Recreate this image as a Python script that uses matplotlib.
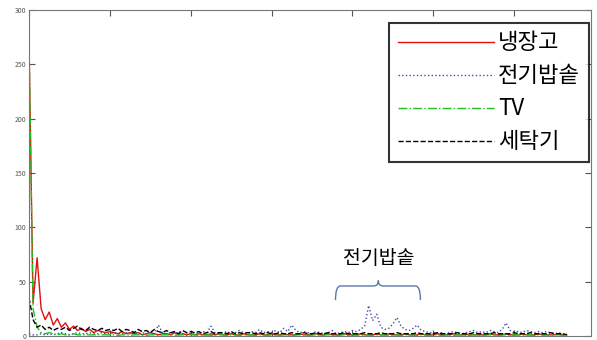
import matplotlib.pyplot as plt
import numpy as np
from matplotlib.path import Path
from matplotlib.patches import PathPatch

plt.rcParams['font.family'] = ['Noto Sans CJK KR', 'DejaVu Sans']

step = 50
fridge = [272, 30, 72, 25, 15, 22, 10, 16, 8, 12, 6, 9, 5, 7, 4, 6, 3, 5, 4, 3, 4,
          3, 2, 4, 2, 3, 2, 3, 1, 2, 3, 2, 1, 2, 2, 1, 3, 1, 2, 1, 2,
          1, 2, 1, 1, 2, 1, 2, 1, 1, 2, 1, 1, 2, 1, 1, 1, 2, 1, 1, 2,
          1, 1, 2, 1, 1, 1, 2, 1, 1, 1, 2, 1, 1, 2, 1, 1, 1, 2, 1, 1,
          1, 2, 1, 1, 1, 2, 1, 1, 2, 1, 1, 1, 2, 1, 1, 1, 2, 1, 1, 1,
          2, 1, 1, 1, 2, 1, 1, 1, 2, 1, 1, 1, 1, 2, 1, 1, 1, 2, 1, 1,
          1, 2, 1, 1, 1, 2, 1, 1, 1, 1, 2, 1, 1]
cooker = [2, 1, 1, 2, 1, 2, 1, 2, 3, 2, 1, 2, 3, 2, 2, 3, 2, 2, 3, 2, 2,
          3, 2, 2, 3, 2, 4, 2, 3, 2, 3, 2, 10, 3, 2, 3, 2, 4, 2, 3, 2,
          3, 2, 4, 3, 9, 3, 2, 3, 4, 2, 3, 5, 3, 2, 4, 3, 6, 3, 4, 3,
          5, 3, 7, 4, 10, 5, 3, 4, 3, 2, 4, 3, 2, 3, 5, 2, 3, 4, 3, 5,
          4, 6, 9, 28, 14, 20, 8, 6, 7, 11, 17, 9, 6, 5, 7, 10, 5, 4, 3, 3,
          2, 3, 2, 3, 4, 3, 2, 3, 4, 5, 3, 4, 3, 5, 4, 3, 6, 12, 5, 4,
          4, 3, 5, 4, 3, 4, 3, 4, 3, 2, 3, 2, 2]
tv = [270, 25, 8, 3, 2, 3, 2, 1, 2, 1, 1, 2, 1, 1, 1, 1, 1, 1, 1, 1, 1,
      1, 0.5, 1, 1, 0.5, 1, 1, 1, 0.5, 1, 1, 0.5, 1, 1, 1, 0.5, 1, 1, 0.5, 1,
      1, 0.5, 1, 1, 0.5, 1, 1, 1, 0.5, 1, 1, 0.5, 1, 1, 1, 0.5, 1, 1, 0.5, 1,
      1, 0.5, 1, 1, 0.5, 1, 1, 1, 0.5, 1, 1, 0.5, 1, 1, 1, 0.5, 1, 1, 0.5, 1,
      1, 0.5, 1, 1, 0.5, 1, 1, 1, 0.5, 1, 1, 0.5, 1, 1, 1, 0.5, 1, 1, 0.5, 1,
      1, 0.5, 1, 1, 0.5, 1, 1, 1, 0.5, 1, 1, 0.5, 1, 1, 1, 0.5, 1, 1, 0.5, 1,
      1, 0.5, 1, 1, 0.5, 1, 1, 1, 0.5, 1, 1, 0.5, 1]
washer = [35, 15, 8, 10, 6, 8, 5, 7, 6, 8, 5, 7, 9, 6, 5, 8, 6, 5, 7, 5, 6,
          5, 7, 4, 6, 5, 3, 6, 4, 5, 3, 6, 4, 3, 5, 3, 4, 2, 5, 3, 4,
          3, 4, 2, 3, 4, 2, 3, 3, 2, 4, 2, 3, 2, 3, 3, 2, 3, 2, 3, 2,
          2, 3, 2, 2, 3, 2, 2, 3, 2, 2, 3, 2, 2, 3, 2, 2, 2, 3, 2, 2,
          2, 2, 3, 2, 2, 2, 3, 2, 2, 2, 3, 2, 2, 2, 2, 3, 2, 2, 2, 2,
          3, 2, 2, 2, 2, 3, 2, 2, 2, 3, 2, 2, 2, 2, 3, 2, 2, 2, 2, 3,
          2, 2, 2, 3, 2, 2, 2, 2, 3, 2, 2, 2, 1]
labels = ['냉장고', '전기밥솥', 'TV', '세탁기']

x = np.arange(len(fridge)) * step

fig = plt.figure(figsize=(5.97, 3.40), dpi=100)
ax = fig.add_axes([0.0486, 0.012, 0.9414, 0.958])

ax.plot(x, fridge, color='#e01010', lw=1.0, label=labels[0])
ax.plot(x, cooker, color='#4848a8', lw=1.0, ls=':', label=labels[1])
ax.plot(x, tv, color='#20c020', lw=1.0, ls='-.', label=labels[2])
ax.plot(x, washer, color='black', lw=1.0, ls='--', label=labels[3])

ax.set_xlim(0, 6950)
ax.set_ylim(0, 300)
ax.set_yticks(np.arange(0, 301, 50))
ax.set_xticks(np.arange(0, 7000, 1000))
ax.tick_params(direction='in', top=True, right=True, length=4, color='#555555',
               labelsize=5, labelcolor='#555555', pad=2)
for s in ax.spines.values():
    s.set_color('#777777')

leg = ax.legend(loc='upper right', fontsize=16, handlelength=4.3, handletextpad=0.2,
                labelspacing=0.45, borderpad=0.4, fancybox=False,
                bbox_to_anchor=(0.9965, 0.962), borderaxespad=0)
leg.get_frame().set_edgecolor('black')
leg.get_frame().set_linewidth(1.5)

# annotation for rice cooker peak
ax.text(4330, 62, '전기밥솥', fontsize=14, ha='center', va='bottom')
xl, xm, xr = 3790, 4320, 4840
yb, yt, ytip = 33, 46, 51
verts = [(xl, yb), (xl, yt), (xl + 60, yt), (xm - 60, yt), (xm, yt), (xm, ytip),
         (xm, yt), (xm + 60, yt), (xr - 60, yt), (xr, yt), (xr, yb)]
codes = [Path.MOVETO, Path.CURVE3, Path.CURVE3, Path.LINETO, Path.CURVE3, Path.CURVE3,
         Path.CURVE3, Path.CURVE3, Path.LINETO, Path.CURVE3, Path.CURVE3]
ax.add_patch(PathPatch(Path(verts, codes), fill=False, edgecolor='#5a78a8', lw=1.0))

fig.savefig('out.png', dpi=100)
